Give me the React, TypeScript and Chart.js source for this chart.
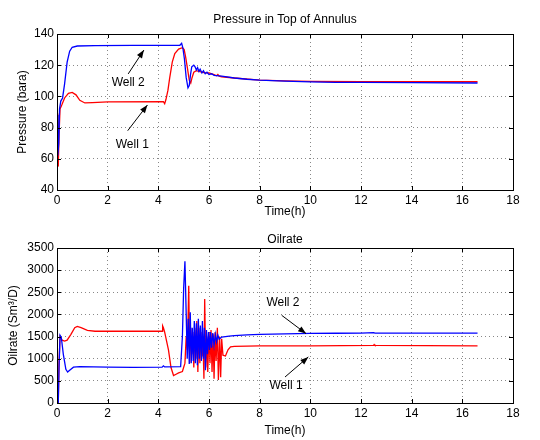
import React, { useEffect, useRef } from "react";
import { Chart, registerables } from "chart.js";

Chart.register(...registerables);

// ---------- Data ----------
const X_TICKS = [0, 2, 4, 6, 8, 10, 12, 14, 16, 18];
const PRESSURE_TICKS = [40, 60, 80, 100, 120, 140];
const OILRATE_TICKS = [0, 500, 1000, 1500, 2000, 2500, 3000, 3500];

const PRESSURE_TITLE = "Pressure in Top of Annulus";
const OILRATE_TITLE = "Oilrate";
const X_TITLE = "Time(h)";
const PRESSURE_Y_TITLE = "Pressure (bara)";
const OILRATE_Y_TITLE = "Oilrate (Sm³/D)";

// [time (h), pressure (bara)]
const pressureWell1: [number, number][] = [
  [0, 89], [0.03, 60], [0.05, 55], [0.08, 75], [0.12, 92], [0.2, 95], [0.3, 99],
  [0.45, 102], [0.6, 102.6], [0.75, 101], [0.9, 97.5], [1.1, 95.8], [1.4, 96],
  [2, 96.5], [4.2, 96.6], [4.25, 95.3], [4.3, 98], [4.38, 104], [4.45, 112],
  [4.55, 122], [4.65, 127.5], [4.8, 130.3], [4.95, 131.2], [5.02, 130], [5.08, 125],
  [5.15, 118], [5.22, 110.5], [5.28, 108.5], [5.33, 112], [5.4, 115.5], [5.5, 116.5],
  [5.6, 116], [5.8, 115.3], [6.0, 115], [6.2, 114], [6.3, 113.2], [6.35, 114],
  [6.4, 113], [6.5, 112.6], [7, 111.8], [8, 110.4], [9, 109.9], [10, 109.6],
  [12, 109.4], [14, 109.4], [16.6, 109.4],
];

const pressureWell2: [number, number][] = [
  [0, 88], [0.03, 62], [0.07, 70], [0.1, 92], [0.15, 97], [0.22, 99], [0.3, 108],
  [0.4, 122], [0.5, 129], [0.6, 131.5], [0.8, 132.3], [1.5, 132.5], [3, 132.7],
  [4.85, 132.8], [4.92, 134], [4.97, 131], [5.03, 124], [5.1, 112], [5.17, 105.5],
  [5.22, 107], [5.27, 114], [5.32, 119], [5.4, 120], [5.45, 119], [5.5, 117],
  [5.55, 118.5], [5.6, 116], [5.65, 117.5], [5.72, 115], [5.78, 116.5], [5.85, 114.5],
  [5.92, 115.5], [6.0, 114], [6.1, 114.5], [6.2, 113.5], [6.5, 113], [7, 111.8],
  [7.5, 111], [8, 110.4], [9, 109.8], [10, 109.3], [11, 109], [12, 109],
  [14, 108.8], [16.6, 108.6],
];

// [time (h), oil rate (Sm3/D)]
const oilrateWell1: [number, number][] = [
  [0, 0], [0.05, 0], [0.08, 900], [0.12, 1500], [0.2, 1420], [0.3, 1400],
  [0.4, 1420], [0.55, 1550], [0.7, 1700], [0.8, 1730], [0.95, 1700], [1.2, 1640],
  [1.5, 1620], [4.15, 1620], [4.17, 1740], [4.2, 1700], [4.25, 1600], [4.4, 1200],
  [4.5, 800], [4.6, 620], [4.7, 650], [4.8, 680], [4.95, 710], [5.05, 900],
  [5.1, 1500], [5.15, 1200], [5.2, 2650], [5.24, 900], [5.28, 1700], [5.32, 1100],
  [5.36, 1600], [5.4, 800], [5.44, 1700], [5.48, 1000], [5.52, 1850], [5.56, 700],
  [5.6, 1700], [5.64, 900], [5.68, 1600], [5.72, 1050], [5.76, 1500], [5.8, 550],
  [5.83, 2350], [5.87, 800], [5.91, 1500], [5.95, 700], [6.0, 1600], [6.04, 900],
  [6.08, 1650], [6.12, 700], [6.16, 1550], [6.2, 550], [6.24, 1600], [6.28, 950],
  [6.33, 1700], [6.37, 520], [6.42, 1500], [6.46, 580], [6.5, 1450], [6.55, 1080],
  [6.65, 1060], [6.75, 1200], [6.85, 1270], [7, 1280], [8, 1290], [10, 1290],
  [12.5, 1300], [12.52, 1320], [12.55, 1300], [16.6, 1290],
];

const oilrateWell2: [number, number][] = [
  [0, 0], [0.05, 0], [0.08, 800], [0.12, 1530], [0.17, 1480], [0.25, 1100],
  [0.35, 760], [0.42, 700], [0.5, 740], [0.65, 810], [0.9, 820], [2, 810],
  [3, 805], [4.15, 810], [4.2, 840], [4.25, 815], [4.88, 820], [4.95, 1500],
  [5.0, 2600], [5.05, 3200], [5.1, 2000], [5.14, 1000], [5.18, 1900], [5.22, 880],
  [5.26, 2050], [5.3, 900], [5.34, 1700], [5.38, 950], [5.42, 1850], [5.46, 900],
  [5.5, 1800], [5.54, 850], [5.58, 1900], [5.62, 1000], [5.66, 1750], [5.7, 950],
  [5.74, 1850], [5.78, 1000], [5.82, 1700], [5.86, 740], [5.9, 1650], [5.94, 1100],
  [5.98, 1600], [6.02, 1200], [6.06, 1600], [6.1, 1250], [6.15, 1580], [6.2, 1300],
  [6.25, 1550], [6.3, 1380], [6.35, 1530], [6.4, 1440], [6.5, 1490], [6.8, 1510],
  [7, 1520], [7.5, 1540], [8, 1550], [9, 1560], [10, 1570], [11, 1575],
  [12, 1578], [12.5, 1590], [12.55, 1580], [14, 1580], [16.6, 1580],
];

// Annotation labels with arrows, in data coordinates: text centre, arrow tail, arrow head
type Note = { text: string; at: [number, number]; from: [number, number]; to: [number, number] };
const pressureNotes: Note[] = [
  { text: "Well 2", at: [2.81, 109], from: [2.81, 114.4], to: [3.43, 129.7] },
  { text: "Well 1", at: [2.97, 69], from: [2.79, 78], to: [3.57, 94.5] },
];
const oilrateNotes: Note[] = [
  { text: "Well 2", at: [8.92, 2267], from: [8.87, 1980], to: [9.83, 1567] },
  { text: "Well 1", at: [9.04, 400], from: [9.0, 587], to: [9.92, 1040] },
];

// ---------- Styling ----------
const FONT = "'Liberation Sans', Arial, sans-serif";
const RED = "#ff0000";
const BLUE = "#0000ff";

type PanelCfg = {
  title: string;
  titleGap: number;
  yTitle: string;
  yTitlePad: number;
  yTicks: number[];
  well1: [number, number][];
  well2: [number, number][];
  notes: Note[];
  padTop: number;
  xAxisHeight: number;
  xTitlePad: number;
};

function drawArrow(ctx: CanvasRenderingContext2D, x1: number, y1: number, x2: number, y2: number) {
  ctx.beginPath();
  ctx.moveTo(x1, y1);
  ctx.lineTo(x2, y2);
  ctx.stroke();
  const a = Math.atan2(y2 - y1, x2 - x1);
  const L = 8;
  const W = 3;
  ctx.beginPath();
  ctx.moveTo(x2, y2);
  ctx.lineTo(x2 - L * Math.cos(a) + W * Math.sin(a), y2 - L * Math.sin(a) - W * Math.cos(a));
  ctx.lineTo(x2 - L * Math.cos(a) - W * Math.sin(a), y2 - L * Math.sin(a) + W * Math.cos(a));
  ctx.closePath();
  ctx.fill();
}

function makeChart(canvas: HTMLCanvasElement, cfg: PanelCfg) {
  const decor = {
    id: "decor",
    afterDraw(chart: any) {
      const { ctx, chartArea } = chart;
      const { left, right, top, bottom } = chartArea;
      const xs = chart.scales.x;
      const ys = chart.scales.y;
      ctx.save();
      // box
      ctx.strokeStyle = "#000";
      ctx.lineWidth = 1;
      ctx.strokeRect(Math.round(left) + 0.5, Math.round(top) + 0.5, Math.round(right - left), Math.round(bottom - top));
      // inward tick marks
      ctx.beginPath();
      const tl = 4;
      X_TICKS.forEach((v) => {
        const px = Math.round(xs.getPixelForValue(v)) + 0.5;
        ctx.moveTo(px, bottom);
        ctx.lineTo(px, bottom - tl);
        ctx.moveTo(px, top);
        ctx.lineTo(px, top + tl);
      });
      cfg.yTicks.forEach((v) => {
        const py = Math.round(ys.getPixelForValue(v)) + 0.5;
        ctx.moveTo(left, py);
        ctx.lineTo(left + tl, py);
        ctx.moveTo(right, py);
        ctx.lineTo(right - tl, py);
      });
      ctx.stroke();
      // title
      ctx.fillStyle = "#000";
      ctx.font = `12px ${FONT}`;
      ctx.textAlign = "center";
      ctx.textBaseline = "middle";
      ctx.fillText(cfg.title, (left + right) / 2, top - cfg.titleGap);
      // annotations
      ctx.font = `12px ${FONT}`;
      ctx.lineWidth = 1;
      cfg.notes.forEach((n) => {
        ctx.fillText(n.text, xs.getPixelForValue(n.at[0]), ys.getPixelForValue(n.at[1]));
        drawArrow(
          ctx,
          xs.getPixelForValue(n.from[0]),
          ys.getPixelForValue(n.from[1]),
          xs.getPixelForValue(n.to[0]),
          ys.getPixelForValue(n.to[1])
        );
      });
      ctx.restore();
    },
  };

  const yMin = cfg.yTicks[0];
  const yMax = cfg.yTicks[cfg.yTicks.length - 1];

  return new Chart(canvas, {
    type: "line",
    data: {
      datasets: [
        {
          label: "Well 2",
          data: cfg.well2.map(([x, y]) => ({ x, y })),
          borderColor: BLUE,
          borderWidth: 1.3,
          pointRadius: 0,
          tension: 0,
          fill: false,
        },
        {
          label: "Well 1",
          data: cfg.well1.map(([x, y]) => ({ x, y })),
          borderColor: RED,
          borderWidth: 1.3,
          pointRadius: 0,
          tension: 0,
          fill: false,
        },
      ],
    },
    options: {
      animation: false,
      responsive: false,
      devicePixelRatio: 1,
      layout: { padding: { top: cfg.padTop, right: 27, left: 0, bottom: 0 } },
      plugins: {
        legend: { display: false },
        tooltip: { enabled: false },
        title: { display: false },
      },
      scales: {
        x: {
          type: "linear",
          min: 0,
          max: 18,
          afterBuildTicks: (s: any) => {
            s.ticks = X_TICKS.map((v) => ({ value: v }));
          },
          afterFit: (s: any) => {
            s.height = cfg.xAxisHeight;
          },
          ticks: {
            color: "#000",
            font: { family: FONT, size: 12 },
            padding: 3,
            maxRotation: 0,
            autoSkip: false,
            callback: (v: any) => String(v),
          },
          grid: { color: "#888", drawTicks: false, lineWidth: 1 },
          border: { display: false, dash: [1, 3] },
          title: {
            display: true,
            text: X_TITLE,
            color: "#000",
            font: { family: FONT, size: 12 },
            padding: { top: 0, bottom: cfg.xTitlePad },
          },
        },
        y: {
          type: "linear",
          min: yMin,
          max: yMax,
          afterBuildTicks: (s: any) => {
            s.ticks = cfg.yTicks.map((v) => ({ value: v }));
          },
          afterFit: (s: any) => {
            s.width = 57;
          },
          ticks: {
            color: "#000",
            font: { family: FONT, size: 12 },
            padding: 3,
            autoSkip: false,
            callback: (v: any) => String(v),
          },
          grid: { color: "#888", drawTicks: false, lineWidth: 1 },
          border: { display: false, dash: [1, 3] },
          title: {
            display: true,
            text: cfg.yTitle,
            color: "#000",
            font: { family: FONT, size: 12 },
            padding: { top: cfg.yTitlePad, bottom: 0 },
          },
        },
      },
    },
    plugins: [decor],
  } as any);
}

function Panel({ cfg, top }: { cfg: PanelCfg; top: number }) {
  const ref = useRef<HTMLCanvasElement | null>(null);
  useEffect(() => {
    if (!ref.current) return;
    const chart = makeChart(ref.current, cfg);
    return () => chart.destroy();
  }, [cfg]);
  return (
    <canvas
      ref={ref}
      width={540}
      height={220}
      style={{ position: "absolute", left: 0, top, width: 540, height: 220, display: "block" }}
    />
  );
}

const pressurePanel: PanelCfg = {
  title: PRESSURE_TITLE,
  titleGap: 14,
  yTitle: PRESSURE_Y_TITLE,
  yTitlePad: 15,
  yTicks: PRESSURE_TICKS,
  well1: pressureWell1,
  well2: pressureWell2,
  notes: pressureNotes,
  padTop: 34,
  xAxisHeight: 30,
  xTitlePad: 1,
};

const oilratePanel: PanelCfg = {
  title: OILRATE_TITLE,
  titleGap: 8,
  yTitle: OILRATE_Y_TITLE,
  yTitlePad: 6,
  yTicks: OILRATE_TICKS,
  well1: oilrateWell1,
  well2: oilrateWell2,
  notes: oilrateNotes,
  padTop: 28,
  xAxisHeight: 37,
  xTitlePad: 2,
};

export default function App() {
  return (
    <div style={{ position: "fixed", left: 0, top: 0, width: 540, height: 440, background: "#fff" }}>
      <Panel cfg={pressurePanel} top={0} />
      <Panel cfg={oilratePanel} top={220} />
    </div>
  );
}
